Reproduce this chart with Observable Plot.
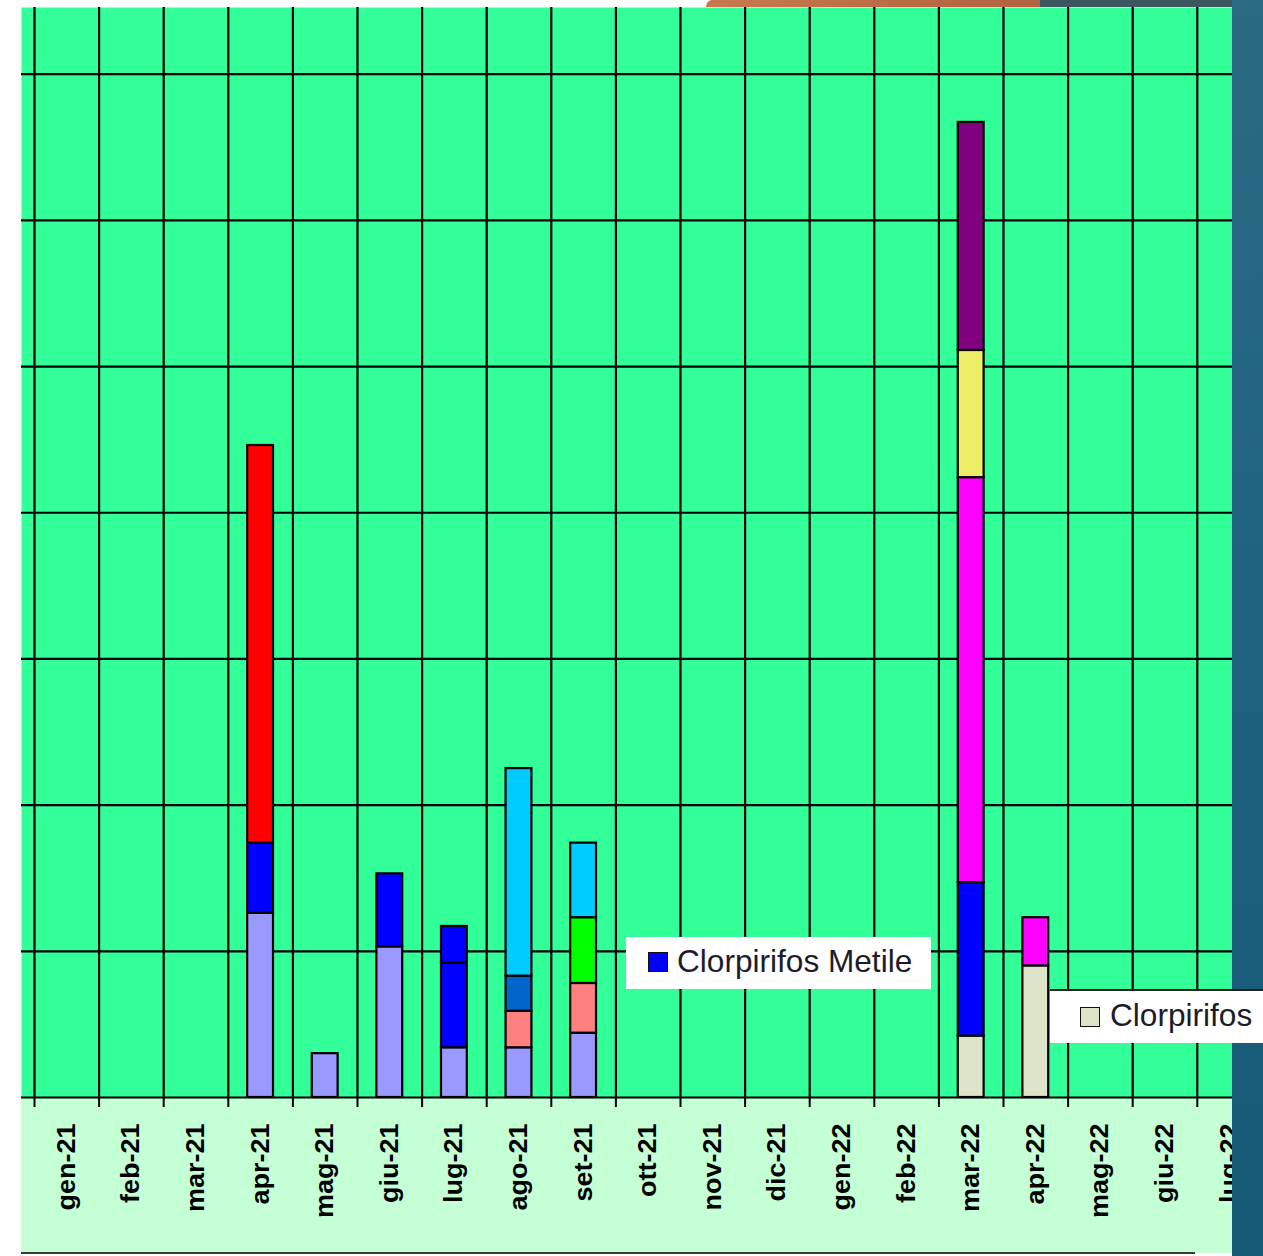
<!DOCTYPE html>
<html>
<head>
<meta charset="utf-8">
<script src="https://cdn.jsdelivr.net/npm/d3@7"></script>
<script src="https://cdn.jsdelivr.net/npm/@observablehq/plot@0.6"></script>
<style>
html, body { margin: 0; padding: 0; background: #fff; overflow: hidden; width: 1263px; height: 1256px; }
#wrap { position: relative; width: 1263px; height: 1256px; overflow: hidden; }
#wrap > div { position: absolute; }
#axisbg { left: 21px; top: 1097px; width: 1211px; height: 156px; background: #C5FFD5; }
#topOrange { left: 706px; top: 0; width: 334px; height: 7px; background: linear-gradient(90deg, #C9794E, #B0623F); border-top-left-radius: 6px 7px; }
#topSlate { left: 1040px; top: 0; width: 223px; height: 7px; background: #3D5561; }
#chart { left: 0; top: 0; width: 1263px; height: 1256px; }
#strip { left: 1232px; top: 0; width: 31px; height: 1256px; background: linear-gradient(180deg, #2A6B84 0%, #1F6280 50%, #175A78 100%); }
#bottomline { left: 21px; top: 1252px; width: 1174px; height: 2px; background: #3a3a3a; }
.lbl { background: #fff; font-family: 'Liberation Sans', Arial, sans-serif; color: #1c1c2a; }
.lbl .sw { position: absolute; box-sizing: border-box; width: 20px; height: 20px; border: 1.5px solid #111; }
.lbl .tx { position: absolute; font-size: 31.6px; line-height: 32px; white-space: nowrap; }
#lbl1 { left: 626px; top: 937px; width: 305px; height: 52px; }
#lbl1 .sw { left: 22px; top: 15px; background: #0000FF; }
#lbl1 .tx { left: 51px; top: 8px; }
#lbl2 { left: 1050px; top: 989px; width: 213px; height: 54px; border-top: 2px solid #222; box-sizing: border-box; }
#lbl2 .sw { left: 30px; top: 16px; background: #DDE4C8; }
#lbl2 .tx { left: 60px; top: 8px; }
</style>
</head>
<body>
<div id="wrap">
  <div id="axisbg"></div>
  <div id="topOrange"></div>
  <div id="topSlate"></div>
  <div id="chart"></div>
  <div id="strip"></div>
  <div id="bottomline"></div>
  <div class="lbl" id="lbl1"><span class="sw"></span><span class="tx">Clorpirifos Metile</span></div>
  <div class="lbl" id="lbl2"><span class="sw"></span><span class="tx">Clorpirifos</span></div>
</div>
<script>
// Categories (months) — the first one is cut off at the left edge of the picture
const categories = ["dic-20","gen-21","feb-21","mar-21","apr-21","mag-21","giu-21","lug-21","ago-21","set-21","ott-21","nov-21","dic-21","gen-22","feb-22","mar-22","apr-22","mag-22","giu-22","lug-22"];

// Series (substances) and their colours
const seriesNames  = ["Sostanza A","Clorpirifos Metile","Sostanza B","Sostanza C","Sostanza D","Sostanza E","Sostanza F","Clorpirifos","Sostanza G","Sostanza H","Sostanza I"];
const seriesColors = ["#9999FF","#0000FF","#FF0000","#FF8080","#0066CC","#00CCFF","#00FF00","#DDE4C8","#FF00FF","#EEEE66","#800080"];

// Stacked segments, bottom to top within each month
const sampleMonth  = ["apr-21","apr-21","apr-21","mag-21","giu-21","giu-21","lug-21","lug-21","lug-21","ago-21","ago-21","ago-21","ago-21","set-21","set-21","set-21","set-21","mar-22","mar-22","mar-22","mar-22","mar-22","apr-22","apr-22"];
const sampleSeries = ["Sostanza A","Clorpirifos Metile","Sostanza B","Sostanza A","Sostanza A","Clorpirifos Metile","Sostanza A","Clorpirifos Metile","Clorpirifos Metile","Sostanza A","Sostanza C","Sostanza D","Sostanza E","Sostanza A","Sostanza C","Sostanza F","Sostanza E","Clorpirifos","Clorpirifos Metile","Sostanza G","Sostanza H","Sostanza I","Clorpirifos","Sostanza G"];
const sampleValue  = [0.126,0.048,0.272,0.030,0.103,0.050,0.034,0.058,0.025,0.034,0.025,0.024,0.142,0.044,0.034,0.045,0.051,0.042,0.105,0.277,0.087,0.156,0.090,0.033];

// Horizontal grid values and visible y extent
const yGrid = [0.1,0.2,0.3,0.4,0.5,0.6,0.7];
const yMax = 0.7456;

const data = sampleMonth.map((m, i) => ({month: m, series: sampleSeries[i], value: sampleValue[i]}));

const step = 64.6;
const x0 = -30.6;
const shown = categories.slice(1);

const chart = Plot.plot({
  width: 1263,
  height: 1256,
  marginTop: 7,
  marginRight: 31,
  marginBottom: 159,
  marginLeft: 21,
  style: {background: "transparent", fontFamily: "'Liberation Sans', Arial, sans-serif", overflow: "visible"},
  x: {type: "band", domain: categories, range: [x0, x0 + step * categories.length], paddingInner: 0.6, paddingOuter: 0.3, align: 0.5, round: false, axis: null},
  y: {domain: [0, yMax], axis: null},
  color: {domain: seriesNames, range: seriesColors},
  marks: [
    Plot.frame({fill: "#33FF99", stroke: null}),
    Plot.ruleY(yGrid, {stroke: "black", strokeWidth: 2.2}),
    Plot.ruleX(shown, {stroke: "black", strokeWidth: 2.2, dx: -step / 2}),
    Plot.barY(data, {x: "month", y: "value", fill: "series", stroke: "black", strokeWidth: 2.2}),
    Plot.ruleY([0], {stroke: "black", strokeWidth: 2.2}),
    Plot.axisX({ticks: shown, tickSize: 10, tickFormat: () => "", label: null, dx: -step / 2, stroke: "black", strokeWidth: 2}),
    Plot.axisX({ticks: shown, tickSize: 0, tickPadding: 26, tickRotate: -90, label: null, fontSize: 25, fontWeight: "bold", fill: "black"})
  ]
});
document.getElementById("chart").appendChild(chart);

// stretch rotated tick labels slightly along their length, as in the original
chart.querySelectorAll('[aria-label="x-axis tick label"] text').forEach(t => {
  const tr = t.getAttribute("transform");
  if (tr && tr.includes("rotate")) t.setAttribute("transform", tr + " scale(1.08,1)");
});
</script>
</body>
</html>
